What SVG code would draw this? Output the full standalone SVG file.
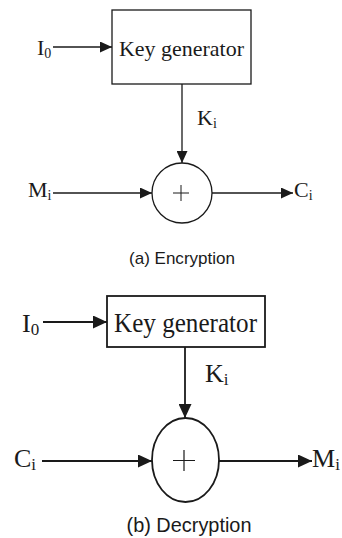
<svg xmlns="http://www.w3.org/2000/svg" width="342" height="538" viewBox="0 0 342 538">
<defs>
<style>
.ln{stroke:#1a1a1a;fill:none}
.t1{stroke-width:1.3}
.t2{stroke-width:1.8}
.ser{font-family:"Liberation Serif","Times New Roman",serif;fill:#1a1a1a}
.sans{font-family:"Liberation Sans",Arial,sans-serif;fill:#1a1a1a}
</style>
<marker id="ah" markerUnits="userSpaceOnUse" markerWidth="12" markerHeight="11" refX="12" refY="5.5" orient="auto">
<path d="M0,0 L12,5.5 L0,11 z" fill="#1a1a1a"/>
</marker>
<marker id="ah2" markerUnits="userSpaceOnUse" markerWidth="14" markerHeight="13" refX="14" refY="6.5" orient="auto">
<path d="M0,0 L14,6.5 L0,13 z" fill="#1a1a1a"/>
</marker>
</defs>
<rect width="342" height="538" fill="#ffffff"/>

<g id="connectors">
<line class="ln t1" x1="53" y1="47" x2="112" y2="47" marker-end="url(#ah)"/>
<line class="ln t1" x1="182" y1="84" x2="182" y2="163" marker-end="url(#ah)"/>
<line class="ln t1" x1="53" y1="193" x2="152" y2="193" marker-end="url(#ah)"/>
<line class="ln t1" x1="212" y1="193" x2="293" y2="193" marker-end="url(#ah)"/>
<line class="ln t2" x1="43" y1="322" x2="107" y2="322" marker-end="url(#ah2)"/>
<line class="ln t2" x1="185" y1="347" x2="185" y2="418" marker-end="url(#ah2)"/>
<line class="ln t2" x1="42" y1="461" x2="152" y2="461" marker-end="url(#ah2)"/>
<line class="ln t2" x1="219" y1="461" x2="312" y2="461" marker-end="url(#ah2)"/>
</g>

<g id="keygen-a">
<rect class="ln t1" x="112" y="10" width="139" height="74"/>
<text class="ser" x="181.5" y="56" font-size="22" text-anchor="middle" textLength="125" lengthAdjust="spacingAndGlyphs">Key generator</text>
</g>
<g id="xor-a">
<circle class="ln t1" cx="182" cy="193" r="30"/>
<path class="ln" stroke-width="1" d="M173,193 H189 M181,185 V201"/>
</g>
<g id="labels-a">
<text class="ser" x="37" y="55" font-size="22">I<tspan font-size="14" dy="3">0</tspan></text>
<text class="ser" x="197" y="125" font-size="22">K<tspan font-size="14" dy="3">i</tspan></text>
<text class="ser" x="28" y="197" font-size="22">M<tspan font-size="14" dy="3">i</tspan></text>
<text class="ser" x="294" y="197" font-size="22">C<tspan font-size="14" dy="3">i</tspan></text>
<text class="sans" x="182" y="264" font-size="17" text-anchor="middle" textLength="106" lengthAdjust="spacingAndGlyphs">(a) Encryption</text>
</g>

<g id="keygen-b">
<rect class="ln t2" x="107" y="296" width="158" height="51"/>
<text class="ser" x="185.5" y="332" font-size="27" text-anchor="middle" textLength="143" lengthAdjust="spacingAndGlyphs">Key generator</text>
</g>
<g id="xor-b">
<ellipse class="ln t2" cx="185.5" cy="460" rx="33.5" ry="42"/>
<path class="ln" stroke-width="1.2" d="M173,460.5 H195 M184,450 V471"/>
</g>
<g id="labels-b">
<text class="ser" x="22" y="332" font-size="26">I<tspan font-size="17" dy="3">0</tspan></text>
<text class="ser" x="205" y="382" font-size="26">K<tspan font-size="17" dy="3">i</tspan></text>
<text class="ser" x="14" y="467" font-size="26">C<tspan font-size="17" dy="3">i</tspan></text>
<text class="ser" x="312" y="467" font-size="26">M<tspan font-size="17" dy="3">i</tspan></text>
<text class="sans" x="189" y="532" font-size="21" text-anchor="middle" textLength="125" lengthAdjust="spacingAndGlyphs">(b) Decryption</text>
</g>
</svg>
